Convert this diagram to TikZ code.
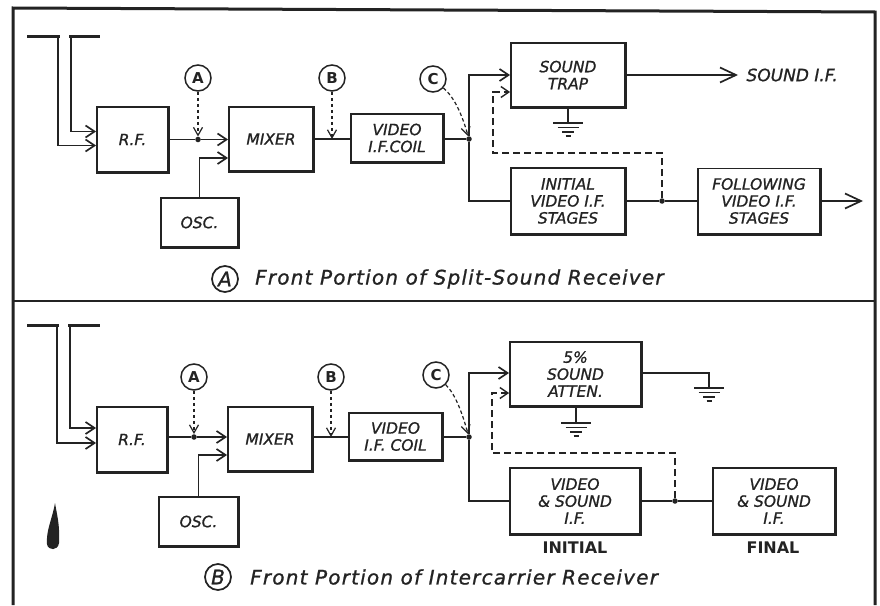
\documentclass[tikz,border=0pt]{standalone}
\usepackage{fontspec}
\setmainfont{DejaVu Sans}
\usetikzlibrary{arrows.meta}
\definecolor{ink}{RGB}{35,35,35}
\newcommand\boxfont{\fontsize{15.5}{17}\selectfont\itshape\addfontfeatures{FakeBold=1}}
\begin{document}
\begin{tikzpicture}[x=1pt,y=-1pt,
  box/.style={draw=ink, line width=1.8pt, inner sep=0pt, align=center, font=\boxfont, text=ink},
  conn/.style={draw=ink, line width=1.7pt},
  arr/.style={conn, -{Straight Barb[length=9pt,width=12pt]}},
  bigarr/.style={conn, -{Straight Barb[length=16pt,width=15pt]}},
  dsh/.style={draw=ink, line width=1.6pt, dash pattern=on 7pt off 4pt},
  dsharr/.style={dsh, -{Straight Barb[length=8pt,width=11pt,line width=1.4pt]}},
  ptr/.style={draw=ink, line width=1.2pt, dash pattern=on 3.5pt off 2.5pt, -{Straight Barb[length=8pt,width=9pt]}},
  jdot/.style={circle, fill=ink, inner sep=0pt, minimum size=5.5pt},
  lbl/.style={circle, draw=ink, line width=1.5pt, minimum size=26pt, inner sep=0pt, font=\fontsize{15}{15}\selectfont\bfseries, text=ink},
  caplbl/.style={circle, draw=ink, line width=1.7pt, minimum size=26pt, inner sep=0pt, font=\fontsize{20}{20}\selectfont\itshape\addfontfeatures{FakeBold=1}, text=ink},
  captext/.style={anchor=west, font=\fontsize{20}{22}\selectfont\itshape\addfontfeatures{LetterSpace=6,FakeBold=1}, text=ink, inner sep=0pt},
  stagelbl/.style={font=\fontsize{16}{16}\selectfont\bfseries, text=ink},
  bar/.style={draw=ink, line width=3pt},
  groundsym/.pic={
    \draw[ink, line width=2.2pt] (-15,0) -- (15,0);
    \draw[ink, line width=1.6pt] (-10.5,4.5) -- (10.5,4.5);
    \draw[ink, line width=1.6pt] (-6,9) -- (6,9);
    \draw[ink, line width=1.6pt] (-2.5,13) -- (2.5,13);
  }]
\useasboundingbox[fill=white] (0,0) rectangle (880,605);

% frame
\draw[ink, line width=3pt] (13,605) -- (13,8) -- (875,12) -- (875,605);
\draw[ink, line width=2.2pt] (13,301) -- (875,301);

%================ PANEL A =================
\node[box, minimum width=71pt, minimum height=65pt] (rfA) at (132.5,139.5) {R.F.};
\node[box, minimum width=84pt, minimum height=64pt] (mixA) at (271,139) {MIXER};
\node[box, minimum width=77pt, minimum height=49pt] (oscA) at (199.5,222.5) {OSC.};
\node[box, minimum width=92pt, minimum height=48pt] (vidA) at (397,138) {VIDEO\\I.F.COIL};
\node[box, minimum width=114pt, minimum height=64pt] (trapA) at (568,75) {SOUND\\TRAP};
\node[box, minimum width=114pt, minimum height=66pt] (initA) at (568,201) {INITIAL\\VIDEO I.F.\\STAGES};
\node[box, minimum width=122pt, minimum height=65pt] (follA) at (759,201) {FOLLOWING\\VIDEO I.F.\\STAGES};

% antenna
\coordinate (antA1) at (58,36);
\coordinate (antA2) at (71,36);
\draw[bar] (27,36) -- (60,36);
\draw[bar] (69,36) -- (100,36);
\draw[arr] (antA1) |- ([yshift=-6pt]rfA.west);
\draw[arr] (antA2) |- ([yshift=8pt]rfA.west);

% RF -> mixer
\node[jdot] (jA1) at (198,139.5) {};
\draw[conn] (rfA.east |- jA1) -- (jA1);
\draw[arr] (jA1) -- (mixA.west |- jA1);
\draw[arr] (oscA.north) |- ([yshift=-19pt]mixA.west);
\node[lbl] (cA1) at (198,78) {A};
\draw[ptr] (cA1) -- (jA1);

% mixer -> video coil
\coordinate (tapA) at (332,139);
\draw[conn] (mixA.east |- tapA) -- (vidA.west |- tapA);
\node[lbl] (cB1) at (332,78) {B};
\draw[ptr] (cB1) -- (tapA);

% video coil -> split
\node[jdot] (jCA) at (469,139) {};
\draw[conn] (vidA.east |- jCA) -- (jCA);
\node[lbl] (cC1) at (433,79) {C};
\draw[ptr] (cC1) .. controls (455,98) and (462,115) .. (jCA);
\draw[arr] (jCA) |- (trapA.west);
\draw[conn] (jCA) |- (initA.west);

% sound trap output + ground
\coordinate (sifA) at (738,75);
\draw[bigarr] (trapA.east) -- (sifA);
\node[anchor=west, font=\fontsize{17}{17}\selectfont\itshape\addfontfeatures{FakeBold=1}, text=ink] (sifTxt) at (743,75) {SOUND I.F.};
\coordinate (gA) at (568,123);
\draw[conn] (trapA.south) -- (gA);
\pic at (gA) {groundsym};

% initial -> following
\node[jdot] (jFA) at (662,201) {};
\draw[conn] (initA.east) -- (jFA) -- (follA.west);
\coordinate (outA) at (863,201);
\draw[bigarr] (follA.east) -- (outA);

% dashed feedback
\coordinate (fbA1) at (662,153);
\coordinate (fbA2) at (493,153);
\draw[dsharr] (jFA) -- (fbA1) -- (fbA2) |- ([yshift=-17pt]trapA.west);

% caption
\node[caplbl] (capA) at (225,279) {A};
\node[captext] (capAt) at (255,279) {Front Portion of Split-Sound Receiver};

%================ PANEL B =================
\node[box, minimum width=70pt, minimum height=65pt] (rfB) at (132,439.5) {R.F.};
\node[box, minimum width=84pt, minimum height=64pt] (mixB) at (270,439) {MIXER};
\node[box, minimum width=79pt, minimum height=49pt] (oscB) at (198.5,521.5) {OSC.};
\node[box, minimum width=93pt, minimum height=47pt] (vidB) at (395.5,436.5) {VIDEO\\I.F. COIL};
\node[box, minimum width=131pt, minimum height=64pt] (attB) at (575.5,374) {5\%\\SOUND\\ATTEN.};
\node[box, minimum width=130pt, minimum height=66pt] (initB) at (575,501) {VIDEO\\\& SOUND\\I.F.};
\node[box, minimum width=122pt, minimum height=66pt] (finB) at (774,501) {VIDEO\\\& SOUND\\I.F.};

% antenna
\coordinate (antB1) at (57,325);
\coordinate (antB2) at (70,325);
\draw[bar] (27,325) -- (59,325);
\draw[bar] (68,325) -- (100,325);
\draw[arr] (antB1) |- ([yshift=-3.5pt]rfB.west);
\draw[arr] (antB2) |- ([yshift=11.5pt]rfB.west);

% RF -> mixer
\node[jdot] (jA2) at (194,437) {};
\draw[conn] (rfB.east |- jA2) -- (jA2);
\draw[arr] (jA2) -- (mixB.west |- jA2);
\draw[arr] (oscB.north) |- ([yshift=-16pt]mixB.west);
\node[lbl] (cA2) at (194,377) {A};
\draw[ptr] (cA2) -- (jA2);

% mixer -> video coil
\coordinate (tapB) at (331,437);
\draw[conn] (mixB.east |- tapB) -- (vidB.west |- tapB);
\node[lbl] (cB2) at (331,377) {B};
\draw[ptr] (cB2) -- (tapB);

% video coil -> split
\node[jdot] (jCB) at (469,437) {};
\draw[conn] (vidB.east |- jCB) -- (jCB);
\node[lbl] (cC2) at (436,375) {C};
\draw[ptr] (cC2) .. controls (456,395) and (462,413) .. (jCB);
\draw[arr] (jCB) |- ([yshift=1pt]attB.west);
\draw[conn] (jCB) |- (initB.west);

% attenuator grounds
\coordinate (gB2a) at (709,373);
\coordinate (gB2) at (709,388);
\draw[conn] ([yshift=1pt]attB.east) -- (gB2a) -- (gB2);
\pic at (gB2) {groundsym};
\coordinate (gB1) at (576,423);
\draw[conn] (attB.south -| gB1) -- (gB1);
\pic at (gB1) {groundsym};

% initial -> final
\node[jdot] (jFB) at (675,501) {};
\draw[conn] (initB.east) -- (jFB) -- (finB.west);

% dashed feedback
\coordinate (fbB1) at (675,453);
\coordinate (fbB2) at (492,453);
\draw[dsharr] (jFB) -- (fbB1) -- (fbB2) |- ([yshift=-19pt]attB.west);

\node[stagelbl] (lblInit) at (575,548) {INITIAL};
\node[stagelbl] (lblFin) at (773,548) {FINAL};

% caption
\node[caplbl] (capB) at (218,577) {B};
\node[captext] (capBt) at (250,577) {Front Portion of Intercarrier Receiver};

% ink blot
\fill[ink] (55,503) .. controls (57,515) and (60,525) .. (59,543) .. controls (58,551) and (48,551) .. (47,544) .. controls (46,530) and (52,520) .. (55,503) -- cycle;

% heavier bottom/right box edges
\foreach \n in {rfA,mixA,oscA,vidA,trapA,initA,follA,rfB,mixB,oscB,vidB,attB,initB,finB}
  \draw[ink, line width=2.8pt] (\n.south west) -- (\n.south east) -- (\n.north east);
\end{tikzpicture}
\end{document}
